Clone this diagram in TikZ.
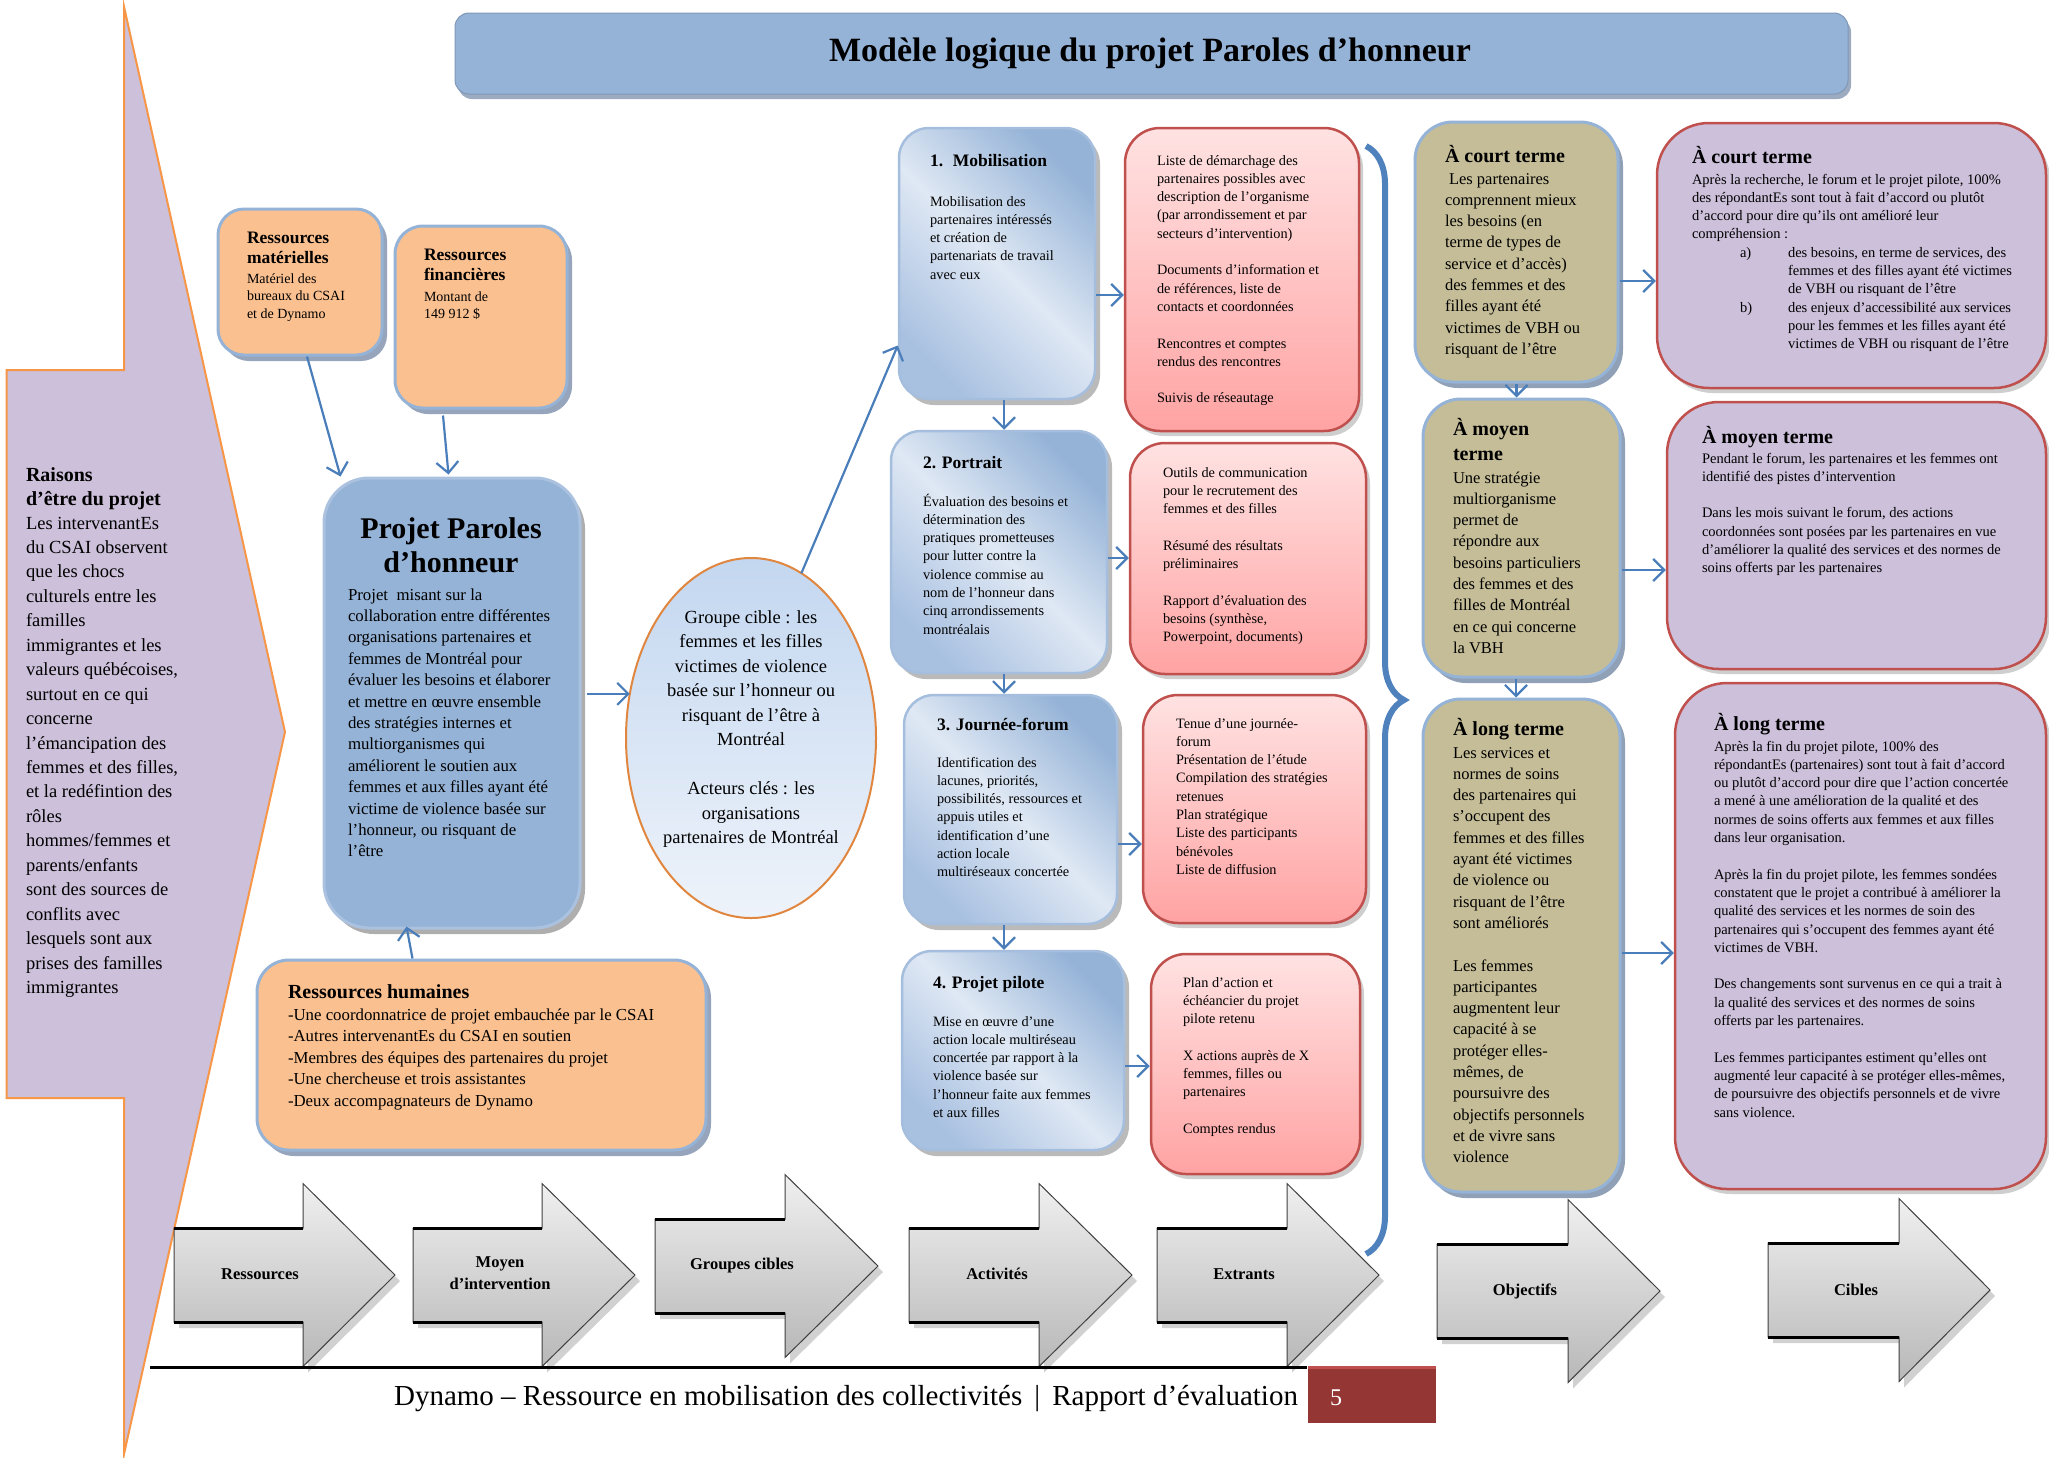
\documentclass[tikz,border=0pt]{standalone}
\usepackage{fontspec}
\setmainfont{Liberation Serif}
\usetikzlibrary{shadows,calc,decorations.pathreplacing,arrows.meta,shapes.geometric}

\definecolor{lav}{HTML}{CCC0DA}
\definecolor{orng}{HTML}{F79646}
\definecolor{peach}{HTML}{FAC090}
\definecolor{lblue}{HTML}{95B3D7}
\definecolor{actm}{HTML}{DFE8F4}
\definecolor{actb}{HTML}{A9C1E1}
\definecolor{khaki}{HTML}{C4BD97}
\definecolor{rred}{HTML}{C0504D}
\definecolor{pinka}{HTML}{FFE2E2}
\definecolor{pinkb}{HTML}{FFA3A3}
\definecolor{arr}{HTML}{4A7EBB}
\definecolor{brc}{HTML}{4F81BD}
\definecolor{darkred}{HTML}{943634}
\definecolor{shad}{HTML}{8496B0}
\definecolor{gca}{HTML}{C3D7F0}
\definecolor{gcb}{HTML}{EEF3FA}
\definecolor{gcl}{HTML}{E0863F}

\newcommand\fLeftT{\bfseries\fontsize{20}{24.45}\selectfont}
\newcommand\fLeft{\fontsize{18.5}{24.45}\selectfont}
\newcommand\fResT{\bfseries\fontsize{17.5}{20.5}\selectfont}
\newcommand\fRes{\fontsize{14}{17.5}\selectfont}
\newcommand\fPrT{\bfseries\fontsize{30}{34}\selectfont}
\newcommand\fPr{\fontsize{16.8}{21.4}\selectfont}
\newcommand\fRhT{\bfseries\fontsize{20}{24}\selectfont}
\newcommand\fRh{\fontsize{16.8}{21.5}\selectfont}
\newcommand\fGc{\fontsize{18.5}{24.5}\selectfont}
\newcommand\fActT{\bfseries\fontsize{17.5}{21}\selectfont}
\newcommand\fAct{\fontsize{14.3}{18.3}\selectfont}
\newcommand\fObjT{\bfseries\fontsize{20}{25}\selectfont}
\newcommand\fObj{\fontsize{16.5}{21.3}\selectfont}
\newcommand\fCibT{\bfseries\fontsize{20}{24}\selectfont}
\newcommand\fCib{\fontsize{14.5}{18.3}\selectfont}
\newcommand\fArr{\bfseries\fontsize{16.5}{22}\selectfont}
\newcommand\pb[2]{\parbox[t]{#1}{\raggedright #2}}

\newcommand\barrow[4]{%
  \path[draw=black!75, line width=1pt, top color=black!6, bottom color=black!28,
        drop shadow={shadow xshift=5pt,shadow yshift=-6pt,fill=black!40,opacity=0.45}]
    (#1,#4-47) -- (#2,#4-47) -- (#2,#4-91.5) -- (#3,#4) -- (#2,#4+91.5) -- (#2,#4+47) -- (#1,#4+47) -- cycle;
  \draw[line width=3pt] (#1,#4-47) -- (#2,#4-47) (#1,#4+47) -- (#2,#4+47);
}

\tikzset{
  conn/.style={draw=arr, line width=2.2pt, -{Straight Barb[length=11pt,width=22pt]}},
  txt/.style={anchor=base west, inner sep=0pt, outer sep=0pt},
  ctxt/.style={anchor=base, inner sep=0pt, outer sep=0pt},
  titlebar/.style={fill=lblue, draw=lblue!85!black, line width=1pt, rounded corners=14pt,
     drop shadow={shadow xshift=3pt,shadow yshift=-5pt,fill=shad,opacity=0.8}},
  resbox/.style={draw=lblue, line width=3pt, fill=peach, rounded corners=26pt,
     drop shadow={shadow xshift=5pt,shadow yshift=-6pt,fill=shad,opacity=0.85}},
  projbox/.style={draw=lblue!80!white, line width=3pt, fill=lblue, rounded corners=45pt,
     drop shadow={shadow xshift=5pt,shadow yshift=-6pt,fill=black!45,opacity=0.7}},
  gcell/.style={ellipse, draw=gcl, line width=2pt, top color=gca, bottom color=gcb, inner sep=0pt, outer sep=0pt},
  actbox/.style={draw=lblue!85!white, line width=2.5pt, rounded corners=30pt,
     top color=lblue, bottom color=actb, middle color=actm, shading angle=-45,
     drop shadow={shadow xshift=5pt,shadow yshift=-6pt,fill=black!45,opacity=0.6}},
  exbox/.style={draw=rred, line width=2.5pt, rounded corners=35pt, top color=pinka, bottom color=pinkb,
     drop shadow={shadow xshift=4pt,shadow yshift=-5pt,fill=black!35,opacity=0.55}},
  objbox/.style={draw=lblue, line width=3pt, fill=khaki, rounded corners=38pt,
     drop shadow={shadow xshift=5pt,shadow yshift=-6pt,fill=shad,opacity=0.9}},
  cibbox/.style={draw=rred, line width=2.5pt, fill=lav, rounded corners=52pt,
     drop shadow={shadow xshift=4pt,shadow yshift=-5pt,fill=black!35,opacity=0.55}},
}

\begin{document}
\begin{tikzpicture}[x=1pt,y=-1pt]
\useasboundingbox (0,0) rectangle (2049,1457);
\fill[white] (0,0) rectangle (2049,1457);

% left chevron
\draw[fill=lav, draw=orng, line width=2pt] (6.5,370) -- (124,370) -- (124,6.5) -- (285,732) -- (124,1454) -- (124,1098) -- (6.5,1098) -- cycle;

% title bar
\node[titlebar, minimum width=1393pt, minimum height=81pt] (tbar) at (1151.5,53.5) {};
\node[ctxt, font=\bfseries\fontsize{34}{40}\selectfont] (ttl) at (1150,61) {Modèle logique du projet Paroles d’honneur};

% boxes
\node[resbox, minimum width=164pt, minimum height=146pt] (rm) at (300,282) {};
\node[resbox, rounded corners=28pt, minimum width=172pt, minimum height=182pt] (rf) at (481,317) {};
\node[projbox, minimum width=256pt, minimum height=450pt] (pr) at (452,703) {};
\node[resbox, rounded corners=32pt, minimum width=449pt, minimum height=190pt] (rh) at (481.5,1055) {};
\node[gcell, minimum width=250pt, minimum height=360pt] (gc) at (751,738) {};

\node[actbox, minimum width=196pt, minimum height=271pt] (mob) at (997,263.5) {};
\node[actbox, minimum width=216pt, minimum height=242pt] (por) at (999,552) {};
\node[actbox, minimum width=213pt, minimum height=229pt] (jou) at (1010.5,809.5) {};
\node[actbox, minimum width=222pt, minimum height=199pt] (pil) at (1013,1050.5) {};

\node[exbox, minimum width=234pt, minimum height=303pt] (e1) at (1242,279.5) {};
\node[exbox, minimum width=236pt, minimum height=231pt] (e2) at (1248,558.5) {};
\node[exbox, minimum width=223pt, minimum height=228pt] (e3) at (1254.5,809) {};
\node[exbox, minimum width=209pt, minimum height=220pt] (e4) at (1255.5,1064) {};

\node[objbox, minimum width=203pt, minimum height=260pt] (o1) at (1516.5,252) {};
\node[objbox, minimum width=197pt, minimum height=278pt] (o2) at (1521.5,538) {};
\node[objbox, minimum width=197pt, minimum height=493pt] (o3) at (1521.5,945.5) {};

\node[cibbox, minimum width=389pt, minimum height=265pt] (c1) at (1851.5,255.5) {};
\node[cibbox, minimum width=379pt, minimum height=267pt] (c2) at (1856.5,535.5) {};
\node[cibbox, minimum width=371pt, minimum height=506pt] (c3) at (1860.5,936) {};

% connectors
\draw[conn] ($(rm.south)+(7,0)$) -- ($(pr.north west)+(18,0)$);
\draw[conn] ($(rf.south)+(-38,6)$) -- ($(pr.north west)+(126,-2)$);
\draw[conn] ($(rh.north west)+(157,0)$) -- ($(pr.south west)+(84,-3)$);
\coordinate (g1) at (gc.160);
\draw[conn] ($(pr.east |- g1)+(5,0)$) -- (g1);
\draw[conn] (gc.73) -- ($(mob.west)+(0,82)$);

\draw[conn] ($(mob.south)+(7,0)$) -- ($(mob.south |- por.north)+(7,0)$);
\draw[conn] ($(por.south)+(5,0)$) -- ($(por.south |- jou.north)+(5,0)$);
\draw[conn] ($(jou.south)+(-6.5,0)$) -- ($(jou.south |- pil.north)+(-6.5,0)$);

\coordinate (m1) at ($(mob.east)+(0,31.5)$); \draw[conn] (m1) -- (m1 -| e1.west);
\coordinate (m2) at ($(por.east)+(0,6)$);    \draw[conn] (m2) -- (m2 -| e2.west);
\coordinate (m3) at ($(jou.east)+(0,34.5)$); \draw[conn] (m3) -- (m3 -| e3.west);
\coordinate (m4) at ($(pil.east)+(0,15.5)$); \draw[conn] (m4) -- (m4 -| e4.west);

\draw[conn] (o1.south) -- (o1.south |- o2.north);
\draw[conn] ($(o2.south)+(-5.5,0)$) -- ($(o2.south |- o3.north)+(-5.5,0)$);
\coordinate (n1) at ($(o1.east)+(0,29)$);  \draw[conn] (n1) -- (n1 -| c1.west);
\coordinate (n2) at ($(o2.east)+(0,32)$);  \draw[conn] (n2) -- (n2 -| c2.west);
\coordinate (n3) at ($(o3.east)+(0,7.5)$); \draw[conn] (n3) -- (n3 -| c3.west);

% brace
\draw[brc, line width=6pt, decorate, decoration={brace, amplitude=38pt}] (1366,146) -- (1366,1254);

% bottom arrows
\barrow{174}{303}{395}{1275}
\barrow{413}{542}{635}{1275}
\barrow{655}{785}{878}{1266}
\barrow{909}{1039}{1132}{1275}
\barrow{1157}{1287}{1379}{1275}
\barrow{1437}{1568}{1660}{1291}
\barrow{1768}{1899}{1990}{1290}
\node[font=\fArr] (l1) at (260,1274) {Ressources};
\node[font=\fArr, align=center] (l2) at (500,1273) {Moyen\\d’intervention};
\node[font=\fArr] (l3) at (742,1266) {Groupes cibles};
\node[font=\fArr] (l4) at (997,1274) {Activités};
\node[font=\fArr] (l5) at (1244,1274) {Extrants};
\node[font=\fArr] (l6) at (1525,1291) {Objectifs};
\node[font=\fArr] (l7) at (1856,1290) {Cibles};

% texts
\node[txt, font=\fLeftT] (rsh) at (26,481) {\pb{220pt}{Raisons\\d’être du projet}};
\node[txt, font=\fLeft] (rsb) at (26,529) {\pb{220pt}{Les intervenantEs\\du CSAI observent\\que les chocs\\culturels entre les\\familles\\immigrantes et les\\valeurs québécoises,\\surtout en ce qui\\concerne\\l’émancipation des\\femmes et des filles,\\et la redéfintion des\\rôles\\hommes/femmes et\\parents/enfants\\sont des sources de\\conflits avec\\lesquels sont aux\\prises des familles\\immigrantes}};

\node[txt, font=\fResT] (rmh) at (247,243) {\pb{150pt}{Ressources\\matérielles}};
\node[txt, font=\fRes] (rmb) at (247,283) {\pb{150pt}{Matériel des\\bureaux du CSAI\\et de Dynamo}};
\node[txt, font=\fResT] (rfh) at (424,260) {\pb{150pt}{Ressources\\financières}};
\node[txt, font=\fRes] (rfb) at (424,301) {\pb{150pt}{Montant de\\149 912 \$}};

\node[ctxt, font=\fPrT] (prh) at (451,538) {\parbox[t]{250pt}{\centering Projet Paroles\\d’honneur}};
\node[txt, font=\fPr] (prb) at (348,600) {\pb{240pt}{Projet\ \ misant sur la\\collaboration entre différentes\\organisations partenaires et\\femmes de Montréal pour\\évaluer les besoins et élaborer\\et mettre en œuvre ensemble\\des stratégies internes et\\multiorganismes qui\\améliorent le soutien aux\\femmes et aux filles ayant été\\victime de violence basée sur\\l’honneur, ou risquant de\\l’être}};

\node[txt, font=\fRhT] (rhh) at (288,998) {Ressources humaines};
\node[txt, font=\fRh] (rhb) at (288,1020) {\pb{420pt}{-Une coordonnatrice de projet embauchée par le CSAI\\-Autres intervenantEs du CSAI en soutien\\-Membres des équipes des partenaires du projet\\-Une chercheuse et trois assistantes\\-Deux accompagnateurs de Dynamo}};

\node[ctxt, font=\fGc] (gct) at (751,623) {\parbox[t]{240pt}{\centering Groupe cible : les\\femmes et les filles\\victimes de violence\\basée sur l’honneur ou\\risquant de l’être à\\Montréal\\[24.5pt]Acteurs clés : les\\organisations\\partenaires de Montréal}};

\node[txt, font=\fActT] (mobh) at (930,166) {1.\hspace{0.55em}Mobilisation};
\node[txt, font=\fAct] (mobb) at (930,206) {\pb{160pt}{Mobilisation des\\partenaires intéressés\\et création de\\partenariats de travail\\avec eux}};
\node[txt, font=\fActT] (porh) at (923,468) {2. Portrait};
\node[txt, font=\fAct] (porb) at (923,506) {\pb{180pt}{Évaluation des besoins et\\détermination des\\pratiques prometteuses\\pour lutter contre la\\violence commise au\\nom de l’honneur dans\\cinq arrondissements\\montréalais}};
\node[txt, font=\fActT] (jouh) at (937,730) {3. Journée-forum};
\node[txt, font=\fAct] (joub) at (937,767) {\pb{180pt}{Identification des\\lacunes, priorités,\\possibilités, ressources et\\appuis utiles et\\identification d’une\\action locale\\multiréseaux concertée}};
\node[txt, font=\fActT] (pilh) at (933,988) {4. Projet pilote};
\node[txt, font=\fAct] (pilb) at (933,1026) {\pb{190pt}{Mise en œuvre d’une\\action locale multiréseau\\concertée par rapport à la\\violence basée sur\\l’honneur faite aux femmes\\et aux filles}};

\node[txt, font=\fAct] (e1t) at (1157,165) {\pb{200pt}{Liste de démarchage des\\partenaires possibles avec\\description de l’organisme\\(par arrondissement et par\\secteurs d’intervention)\\[18.3pt]Documents d’information et\\de références, liste de\\contacts et coordonnées\\[18.3pt]Rencontres et comptes\\rendus des rencontres\\[18.3pt]Suivis de réseautage}};
\node[txt, font=\fAct] (e2t) at (1163,477) {\pb{200pt}{Outils de communication\\pour le recrutement des\\femmes et des filles\\[18.3pt]Résumé des résultats\\préliminaires\\[18.3pt]Rapport d’évaluation des\\besoins (synthèse,\\Powerpoint, documents)}};
\node[txt, font=\fAct] (e3t) at (1176,728) {\pb{190pt}{Tenue d’une journée-\\forum\\Présentation de l’étude\\Compilation des stratégies\\retenues\\Plan stratégique\\Liste des participants\\bénévoles\\Liste de diffusion}};
\node[txt, font=\fAct] (e4t) at (1183,987) {\pb{170pt}{Plan d’action et\\échéancier du projet\\pilote retenu\\[18.3pt]X actions auprès de X\\femmes, filles ou\\partenaires\\[18.3pt]Comptes rendus}};

\node[txt, font=\fObjT] (o1h) at (1445,162) {À court terme};
\node[txt, font=\fObj] (o1b) at (1445,184) {\pb{170pt}{\hspace*{4pt}Les partenaires\\comprennent mieux\\les besoins (en\\terme de types de\\service et d’accès)\\des femmes et des\\filles ayant été\\victimes de VBH ou\\risquant de l’être}};
\node[txt, font=\fObjT] (o2h) at (1453,435) {\pb{170pt}{À moyen\\terme}};
\node[txt, font=\fObj] (o2b) at (1453,483) {\pb{170pt}{Une stratégie\\multiorganisme\\permet de\\répondre aux\\besoins particuliers\\des femmes et des\\filles de Montréal\\en ce qui concerne\\la VBH}};
\node[txt, font=\fObjT] (o3h) at (1453,735) {À long terme};
\node[txt, font=\fObj] (o3b) at (1453,758) {\pb{170pt}{Les services et\\normes de soins\\des partenaires qui\\s’occupent des\\femmes et des filles\\ayant été victimes\\de violence ou\\risquant de l’être\\sont améliorés\\[21.3pt]Les femmes\\participantes\\augmentent leur\\capacité à se\\protéger elles-\\mêmes, de\\poursuivre des\\objectifs personnels\\et de vivre sans\\violence}};

\node[txt, font=\fCibT] (c1h) at (1692,163) {À court terme};
\node[txt, font=\fCib] (c1b) at (1692,184) {\pb{345pt}{Après la recherche, le forum et le projet pilote, 100\%\\des répondantEs sont tout à fait d'accord ou plutôt\\d'accord pour dire qu’ils ont amélioré leur\\compréhension :\\\hspace*{48pt}\makebox[48pt][l]{a)}des besoins, en terme de services, des\\\hspace*{96pt}femmes et des filles ayant été victimes\\\hspace*{96pt}de VBH ou risquant de l'être\\\hspace*{48pt}\makebox[48pt][l]{b)}des enjeux d'accessibilité aux services\\\hspace*{96pt}pour les femmes et les filles ayant été\\\hspace*{96pt}victimes de VBH ou risquant de l'être}};
\node[txt, font=\fCibT] (c2h) at (1702,443) {À moyen terme};
\node[txt, font=\fCib] (c2b) at (1702,463) {\pb{335pt}{Pendant le forum, les partenaires et les femmes ont\\identifié des pistes d’intervention\\[18.3pt]Dans les mois suivant le forum, des actions\\coordonnées sont posées par les partenaires en vue\\d’améliorer la qualité des services et des normes de\\soins offerts par les partenaires}};
\node[txt, font=\fCibT] (c3h) at (1714,730) {À long terme};
\node[txt, font=\fCib] (c3b) at (1714,751) {\pb{330pt}{Après la fin du projet pilote, 100\% des\\répondantEs (partenaires) sont tout à fait d'accord\\ou plutôt d'accord pour dire que l’action concertée\\a mené à une amélioration de la qualité et des\\normes de soins offerts aux femmes et aux filles\\dans leur organisation.\\[18.3pt]Après la fin du projet pilote, les femmes sondées\\constatent que le projet a contribué à améliorer la\\qualité des services et les normes de soin des\\partenaires qui s'occupent des femmes ayant été\\victimes de VBH.\\[18.3pt]Des changements sont survenus en ce qui a trait à\\la qualité des services et des normes de soins\\offerts par les partenaires.\\[18.3pt]Les femmes participantes estiment qu’elles ont\\augmenté leur capacité à se protéger elles-mêmes,\\de poursuivre des objectifs personnels et de vivre\\sans violence.}};

% footer
\draw[line width=3pt] (150,1367) -- (1307,1367);
\node[fill=darkred, minimum width=128pt, minimum height=56pt, anchor=north west, inner sep=0pt, outer sep=0pt] (pgbox) at (1308,1367) {};
\draw[rred, line width=3pt] (pgbox.north west) -- (pgbox.north east);
\node[txt, font=\fontsize{24}{28}\selectfont, text=white] (pgnum) at (1330,1405) {5};
\node[ctxt, font=\fontsize{29}{33}\selectfont] (foot) at (846,1405) {Dynamo – Ressource en mobilisation des collectivités \,|\, Rapport d’évaluation};
\end{tikzpicture}
\end{document}
